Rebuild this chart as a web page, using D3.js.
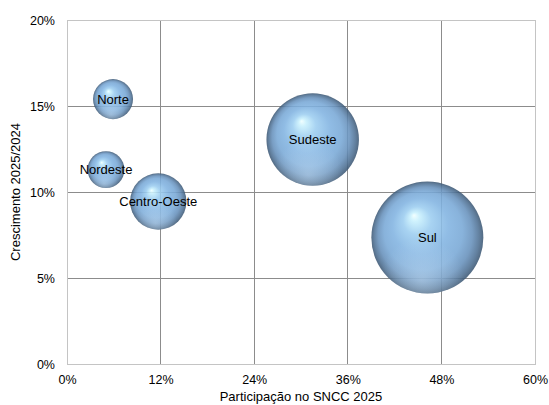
<!DOCTYPE html>
<html>
<head>
<meta charset="utf-8">
<script src="https://cdn.jsdelivr.net/npm/d3@7"></script>
<style>
  html, body { margin: 0; padding: 0; background: #fff; }
  svg { display: block; font-family: "Liberation Sans", Arial, sans-serif; }
</style>
</head>
<body>
<svg id="chart" width="549" height="405"></svg>
<script>
// Regional bubbles: participation share (x), growth (y), bubble size = share
const regions = ["Norte", "Nordeste", "Centro-Oeste", "Sudeste", "Sul"];
const participation = [5.9, 5.0, 11.7, 31.5, 46.2];   // % of SNCC 2025
const growth = [15.4, 11.3, 9.45, 13.05, 7.35];        // % 2025/2024
const bubbleSize = [5.9, 5.0, 11.7, 31.5, 46.2];
const xTicks = [0, 12, 24, 36, 48, 60];
const yTicks = [0, 5, 10, 15, 20];

const svg = d3.select("#chart");
const margin = { left: 67, right: 14, top: 20, bottom: 41 };
const W = 549, H = 405;

const x = d3.scaleLinear().domain([0, 60]).range([margin.left, W - margin.right]);
const y = d3.scaleLinear().domain([0, 20]).range([H - margin.bottom, margin.top]);
const r = d3.scaleSqrt().domain([0, d3.max(bubbleSize)]).range([0, 56]);

// Sphere shading
const defs = svg.append("defs");
const g = defs.append("radialGradient")
  .attr("id", "sphere")
  .attr("cx", "0.5").attr("cy", "0.5").attr("r", "0.5")
  .attr("fx", "0.38").attr("fy", "0.3");
[
  [0, "#f0ffff"], [0.08, "#c8f0fd"], [0.25, "#9ccdf0"], [0.5, "#81b3e1"],
  [0.7, "#78a8d6"], [0.84, "#6690bb"], [0.94, "#4d6f92"], [1, "#3b5672"]
].forEach(([o, c]) => g.append("stop").attr("offset", o).attr("stop-color", c));

const shine = defs.append("radialGradient")
  .attr("id", "shine")
  .attr("cx", "0.45").attr("cy", "0.88").attr("r", "0.38");
shine.append("stop").attr("offset", 0).attr("stop-color", "#d4eafc").attr("stop-opacity", 0.4);
shine.append("stop").attr("offset", 1).attr("stop-color", "#d4eafc").attr("stop-opacity", 0);

// Gridlines
const grid = svg.append("g");
grid.selectAll("line.v").data(xTicks.slice(1, -1)).join("line")
  .attr("x1", d => x(d)).attr("x2", d => x(d))
  .attr("y1", y(20)).attr("y2", y(0))
  .attr("stroke", "#8c8c8c").attr("stroke-width", 1).attr("shape-rendering", "crispEdges");
grid.selectAll("line.h").data(yTicks.slice(1, -1)).join("line")
  .attr("x1", x(0)).attr("x2", x(60))
  .attr("y1", d => y(d)).attr("y2", d => y(d))
  .attr("stroke", "#8c8c8c").attr("stroke-width", 1).attr("shape-rendering", "crispEdges");
grid.append("rect")
  .attr("x", x(0)).attr("y", y(20))
  .attr("width", x(60) - x(0)).attr("height", y(0) - y(20))
  .attr("fill", "none").attr("stroke", "#c4c4c4").attr("shape-rendering", "crispEdges");

// Axes (labels only)
const xAxis = svg.append("g")
  .attr("transform", `translate(0,${y(0)})`)
  .call(d3.axisBottom(x).tickValues(xTicks).tickSize(0).tickPadding(11).tickFormat(d => d + "%"));
const yAxis = svg.append("g")
  .attr("transform", `translate(${x(0)},0)`)
  .call(d3.axisLeft(y).tickValues(yTicks).tickSize(0).tickPadding(12).tickFormat(d => d + "%"));
[xAxis, yAxis].forEach(a => {
  a.select(".domain").remove();
  a.selectAll("text").attr("font-size", 12.5).attr("fill", "#000")
    .attr("font-family", "'Liberation Sans', Arial, sans-serif");
});

// Axis titles
svg.append("text")
  .attr("x", (x(0) + x(60)) / 2).attr("y", 401)
  .attr("text-anchor", "middle").attr("font-size", 13).text("Participação no SNCC 2025");
svg.append("text")
  .attr("transform", `translate(20,${(y(0) + y(20)) / 2}) rotate(-90)`)
  .attr("text-anchor", "middle").attr("font-size", 13).text("Crescimento 2025/2024");

// Bubbles
const data = regions.map((name, i) => ({
  name, px: participation[i], gy: growth[i], size: bubbleSize[i]
}));
const bubbles = svg.append("g").selectAll("g").data(data).join("g")
  .attr("transform", d => `translate(${x(d.px)},${y(d.gy)})`);
bubbles.append("circle").attr("r", d => r(d.size))
  .attr("fill", "url(#sphere)").attr("fill-opacity", 0.88);
bubbles.append("circle").attr("r", d => r(d.size))
  .attr("fill", "url(#shine)");
bubbles.append("text")
  .attr("text-anchor", "middle").attr("dy", "0.35em")
  .attr("font-size", 13).attr("fill", "#000")
  .text(d => d.name);
</script>
</body>
</html>
